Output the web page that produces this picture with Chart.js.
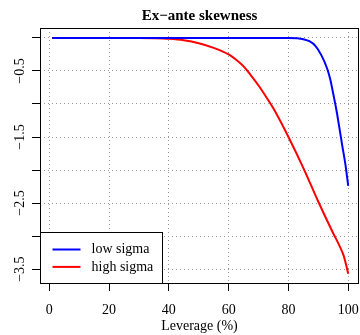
<!DOCTYPE html>
<html>
<head>
<meta charset="utf-8">
<script src="https://cdn.jsdelivr.net/npm/chart.js@4/dist/chart.umd.min.js"></script>
<style>
  html, body { margin: 0; padding: 0; background: #fff; }
</style>
</head>
<body>
<canvas id="chart" width="360" height="335"></canvas>
<script>
// values
var lowX  = [1, 80, 83, 85, 87, 89, 91, 93, 94, 95, 96, 97, 98, 99, 100];
var lowY  = [0, 0, -0.005, -0.02, -0.05, -0.12, -0.26, -0.47, -0.63, -0.85, -1.08, -1.35, -1.63, -1.9, -2.24];
var highX = [1, 30, 35, 40, 45, 50, 55, 60, 62.5, 65, 67.5, 70, 72.5, 75, 80, 85, 90, 95, 97, 98.5, 100];
var highY = [0, 0, -0.004, -0.013, -0.035, -0.08, -0.15, -0.25, -0.33, -0.43, -0.57, -0.72, -0.89, -1.07, -1.5, -1.97, -2.48, -2.96, -3.14, -3.3, -3.57];
var seriesNames = ["low sigma", "high sigma"];
var seriesColors = ["#0000ff", "#ff0000"];
var xTicks = [0, 20, 40, 60, 80, 100];
var yTicks = [0, -0.5, -1, -1.5, -2, -2.5, -3, -3.5];
var yLabels = [-0.5, -1.5, -2.5, -3.5];
var chartTitle = "Ex\u2212ante skewness";
var xTitle = "Leverage (%)";

var serif = "'Liberation Serif', 'DejaVu Serif', serif";

function toPoints(xs, ys) {
  return xs.map(function(x, i) { return {x: x, y: ys[i]}; });
}

var rPlot = {
  id: 'rPlot',
  afterDraw: function(chart) {
    var ctx = chart.ctx;
    var a = chart.chartArea;
    var ys = chart.scales.y;
    ctx.save();
    // title
    ctx.fillStyle = '#000';
    ctx.font = "bold 15px " + serif;
    ctx.textAlign = 'center';
    ctx.textBaseline = 'alphabetic';
    ctx.fillText(chartTitle, (a.left + a.right) / 2, 19.5);
    // y labels, rotated like R
    ctx.font = "14px " + serif;
    yLabels.forEach(function(v) {
      var py = ys.getPixelForValue(v);
      ctx.save();
      ctx.translate(23.5, py);
      ctx.rotate(-Math.PI / 2);
      ctx.textAlign = 'center';
      ctx.fillText(String(v).replace('-', '\u2212'), 0, 0);
      ctx.restore();
    });
    // box
    ctx.strokeStyle = '#000';
    ctx.lineWidth = 1;
    ctx.strokeRect(Math.round(a.left) + 0.5, Math.round(a.top) + 0.5,
      Math.round(a.right - a.left) - 1, Math.round(a.bottom - a.top));
    // legend
    var lx = Math.round(a.left) + 0.5, lw = 122, lh = 51;
    var ly = Math.round(a.bottom) + 0.5 - lh;
    ctx.fillStyle = '#fff';
    ctx.fillRect(lx, ly, lw, lh);
    ctx.strokeRect(lx, ly, lw, lh);
    ctx.textAlign = 'left';
    ctx.textBaseline = 'middle';
    seriesNames.forEach(function(name, i) {
      var yy = ly + 17 + i * 17.4;
      ctx.strokeStyle = seriesColors[i];
      ctx.lineWidth = 2;
      ctx.beginPath();
      ctx.moveTo(lx + 12, yy);
      ctx.lineTo(lx + 40, yy);
      ctx.stroke();
      ctx.fillStyle = '#000';
      ctx.fillText(name, lx + 51, yy);
    });
    ctx.restore();
  }
};

var gridOpts = {
  color: '#999',
  lineWidth: 1,
  tickColor: '#000',
  tickLength: 8,
  tickBorderDash: []
};

new Chart(document.getElementById('chart').getContext('2d'), {
  type: 'line',
  data: {
    datasets: [{
      label: seriesNames[0],
      data: toPoints(lowX, lowY),
      borderColor: seriesColors[0],
      borderWidth: 2,
      pointRadius: 0,
      cubicInterpolationMode: 'monotone',
      fill: false
    }, {
      label: seriesNames[1],
      data: toPoints(highX, highY),
      borderColor: seriesColors[1],
      borderWidth: 2,
      pointRadius: 0,
      cubicInterpolationMode: 'monotone',
      fill: false
    }]
  },
  options: {
    responsive: false,
    animation: false,
    layout: { padding: { top: 28, right: 1, left: 0, bottom: 0 } },
    plugins: { legend: { display: false }, title: { display: false }, tooltip: { enabled: false } },
    scales: {
      x: {
        type: 'linear',
        min: -3.1,
        max: 103.6,
        afterBuildTicks: function(s) { s.ticks = xTicks.map(function(v) { return {value: v}; }); },
        afterFit: function(s) { s.height = 52; s.paddingLeft = 0; s.paddingRight = 0; },
        grid: gridOpts,
        border: { display: false, dash: [1, 3] },
        ticks: { font: { family: serif, size: 14 }, color: '#000', padding: 11, maxRotation: 0, autoSkip: false },
        title: { display: true, text: xTitle, font: { family: serif, size: 14 }, color: '#000', padding: 0 }
      },
      y: {
        type: 'linear',
        min: -3.71,
        max: 0.15,
        afterBuildTicks: function(s) { s.ticks = yTicks.map(function(v) { return {value: v}; }); },
        afterFit: function(s) { s.width = 40; s.paddingTop = 0; s.paddingBottom = 0; },
        grid: gridOpts,
        border: { display: false, dash: [1, 3] },
        ticks: { display: false }
      }
    }
  },
  plugins: [rPlot]
});
</script>
</body>
</html>
